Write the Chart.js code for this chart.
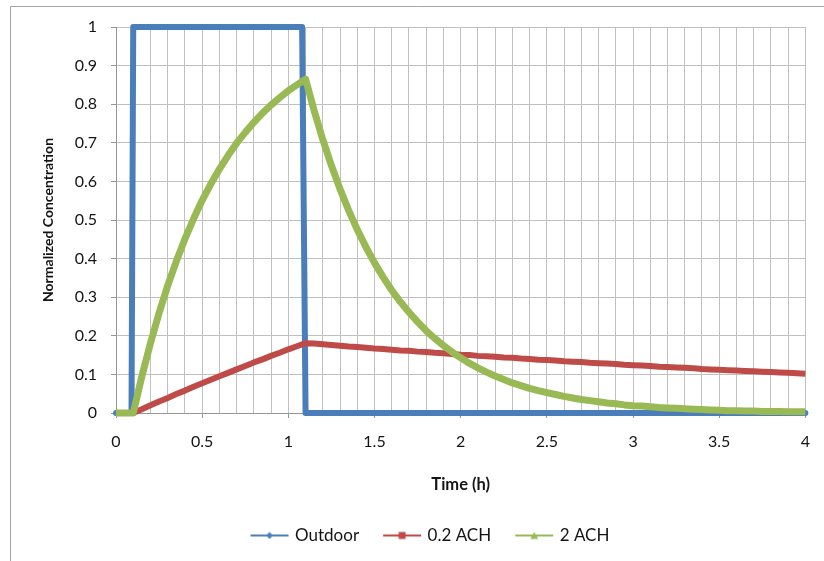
<!DOCTYPE html>
<html>
<head>
<meta charset="utf-8">
<script src="https://cdn.jsdelivr.net/npm/chart.js@4/dist/chart.umd.min.js"></script>
<style>
  html, body { margin: 0; padding: 0; background: #ffffff; }
  #wrap { position: relative; width: 824px; height: 561px; }
</style>
</head>
<body>
<div id="wrap"><canvas id="c" width="824" height="561"></canvas></div>
<script>
// ---- Data ----
const seriesNames = ['Outdoor', '0.2 ACH', '2 ACH'];

const outdoorHours = [0, 0.09, 0.1, 1.08, 1.1, 4];
const outdoorConc  = [0, 0, 1, 1, 0, 0];

const timeHours = [0,0.05,0.1,0.15,0.2,0.25,0.3,0.35,0.4,0.45,0.5,0.55,0.6,0.65,0.7,0.75,0.8,0.85,0.9,0.95,1,
  1.05,1.1,1.15,1.2,1.25,1.3,1.35,1.4,1.45,1.5,1.55,1.6,1.65,1.7,1.75,1.8,1.85,1.9,1.95,2,
  2.05,2.1,2.15,2.2,2.25,2.3,2.35,2.4,2.45,2.5,2.55,2.6,2.65,2.7,2.75,2.8,2.85,2.9,2.95,3,
  3.05,3.1,3.15,3.2,3.25,3.3,3.35,3.4,3.45,3.5,3.55,3.6,3.65,3.7,3.75,3.8,3.85,3.9,3.95,4];

const ach02Conc = [0,0,0,0.010,0.020,0.030,0.039,0.049,0.058,0.068,0.077,0.086,0.095,0.104,0.113,0.122,0.131,0.139,0.148,0.156,0.165,
  0.173,0.181,0.180,0.178,0.176,0.174,0.172,0.171,0.169,0.167,0.166,0.164,0.162,0.161,0.159,0.158,0.156,0.155,0.153,0.151,
  0.150,0.148,0.147,0.146,0.144,0.143,0.141,0.140,0.138,0.137,0.136,0.134,0.133,0.132,0.130,0.129,0.128,0.127,0.125,0.124,
  0.123,0.122,0.120,0.119,0.118,0.117,0.116,0.114,0.113,0.112,0.111,0.110,0.109,0.108,0.107,0.106,0.105,0.104,0.103,0.102];

const ach2Conc = [0,0,0,0.095,0.181,0.259,0.330,0.393,0.451,0.503,0.551,0.593,0.632,0.667,0.699,0.727,0.753,0.777,0.798,0.817,0.835,
  0.850,0.865,0.783,0.708,0.641,0.580,0.525,0.475,0.430,0.389,0.352,0.318,0.288,0.261,0.236,0.213,0.193,0.175,0.158,0.143,
  0.129,0.117,0.106,0.096,0.087,0.078,0.071,0.064,0.058,0.053,0.048,0.043,0.039,0.035,0.032,0.029,0.026,0.024,0.021,0.019,
  0.018,0.016,0.014,0.013,0.012,0.011,0.010,0.009,0.008,0.007,0.006,0.006,0.005,0.005,0.004,0.004,0.004,0.003,0.003,0.003];

const xTickLabels = ['0','0.5','1','1.5','2','2.5','3','3.5','4'];
const yTickLabels = ['0','0.1','0.2','0.3','0.4','0.5','0.6','0.7','0.8','0.9','1'];

// ---- Styling ----
const colors = ['#4a7ebb', '#be4b48', '#98b954'];
const markerShapes = ['diamond', 'square', 'triangle'];
const FONT = 'Lato, "Open Sans", sans-serif';
const textColor = '#141414';
const gridColor = '#c0c0c0';
const axisColor = '#969696';

function toPoints(xs, ys) { return xs.map((x, i) => ({ x: x, y: ys[i] })); }

function legendIcon(color, shape) {
  const c = document.createElement('canvas');
  c.width = 44; c.height = 12;
  const g = c.getContext('2d');
  const cx = 24;
  g.strokeStyle = color; g.lineWidth = 2;
  g.beginPath(); g.moveTo(5, 6); g.lineTo(43, 6); g.stroke();
  g.fillStyle = color;
  g.beginPath();
  if (shape === 'diamond') {
    g.moveTo(cx, 2.5); g.lineTo(cx + 3.5, 6); g.lineTo(cx, 9.5); g.lineTo(cx - 3.5, 6); g.closePath();
  } else if (shape === 'square') {
    g.rect(cx - 3.5, 2.5, 7, 7);
  } else {
    g.moveTo(cx, 2.5); g.lineTo(cx + 4, 9.5); g.lineTo(cx - 4, 9.5); g.closePath();
  }
  g.fill();
  return c;
}

function isHalf(v) { return Math.abs(v * 2 - Math.round(v * 2)) < 1e-6; }

const framePlugin = {
  id: 'frame',
  beforeDraw(chart) {
    const ctx = chart.ctx;
    ctx.save();
    ctx.strokeStyle = '#a6a6a6';
    ctx.lineWidth = 1;
    ctx.beginPath();
    ctx.moveTo(10.5, 561); ctx.lineTo(10.5, 6.5); ctx.lineTo(824, 6.5);
    ctx.stroke();
    ctx.restore();
  }
};

// shift the legend block to sit where the reference places it
const legendShiftPlugin = {
  id: 'legendShift',
  afterLayout(chart) {
    if (chart.legend) { chart.legend.left += 25; chart.legend.right += 25; }
  }
};

new Chart(document.getElementById('c'), {
  type: 'scatter',
  data: {
    datasets: [
      { label: seriesNames[0], data: toPoints(outdoorHours, outdoorConc), showLine: true,
        borderColor: colors[0], backgroundColor: colors[0], borderWidth: 6, pointRadius: 0,
        borderJoinStyle: 'round', borderCapStyle: 'round', order: 3, clip: false },
      { label: seriesNames[1], data: toPoints(timeHours, ach02Conc), showLine: true,
        borderColor: colors[1], backgroundColor: colors[1], borderWidth: 6, pointRadius: 0,
        borderJoinStyle: 'round', order: 2, clip: false },
      { label: seriesNames[2], data: toPoints(timeHours, ach2Conc), showLine: true,
        borderColor: colors[2], backgroundColor: colors[2], borderWidth: 7, pointRadius: 0,
        borderJoinStyle: 'round', order: 1, clip: false }
    ]
  },
  options: {
    responsive: false,
    animation: false,
    layout: { padding: { left: 0, right: 16, top: 27, bottom: 7 } },
    plugins: {
      tooltip: { enabled: false },
      legend: {
        position: 'bottom',
        labels: {
          usePointStyle: true,
          pointStyleWidth: 38,
          padding: 22,
          color: textColor,
          font: { family: FONT, size: 17 },
          generateLabels: (chart) => chart.data.datasets.map((ds, i) => ({
            text: ds.label,
            pointStyle: legendIcon(colors[i], markerShapes[i]),
            fillStyle: colors[i],
            strokeStyle: colors[i],
            lineWidth: 0,
            hidden: false,
            fontColor: textColor,
            datasetIndex: i
          }))
        }
      }
    },
    scales: {
      x: {
        type: 'linear',
        min: 0, max: 4,
        afterFit: (s) => { s.height = 92; },
        border: { color: axisColor, width: 1 },
        grid: {
          color: gridColor,
          lineWidth: 1,
          drawTicks: true,
          tickLength: 5,
          tickColor: (ctx) => (ctx.tick && isHalf(ctx.tick.value)) ? axisColor : 'rgba(0,0,0,0)'
        },
        ticks: {
          stepSize: 0.1,
          autoSkip: false,
          maxRotation: 0,
          padding: 14,
          color: textColor,
          font: { family: FONT, size: 16 },
          callback: (v) => isHalf(v) ? xTickLabels[Math.round(v * 2)] : ''
        },
        title: {
          display: true,
          text: 'Time (h)',
          color: textColor,
          font: { family: FONT, size: 16.5, weight: 'bold' },
          padding: { top: 0, bottom: 10 }
        }
      },
      y: {
        type: 'linear',
        min: 0, max: 1,
        afterFit: (s) => { s.width = 116; },
        border: { color: axisColor, width: 1 },
        grid: { color: gridColor, lineWidth: 1, drawTicks: true, tickLength: 5, tickColor: axisColor },
        ticks: {
          stepSize: 0.1,
          padding: 14,
          color: textColor,
          font: { family: FONT, size: 16 },
          callback: (v) => yTickLabels[Math.round(v * 10)]
        },
        title: {
          display: true,
          text: 'Normalized Concentration',
          color: textColor,
          font: { family: FONT, size: 14, weight: 'bold' },
          padding: { top: 40, bottom: 0 }
        }
      }
    }
  },
  plugins: [framePlugin, legendShiftPlugin]
});
</script>
</body>
</html>
